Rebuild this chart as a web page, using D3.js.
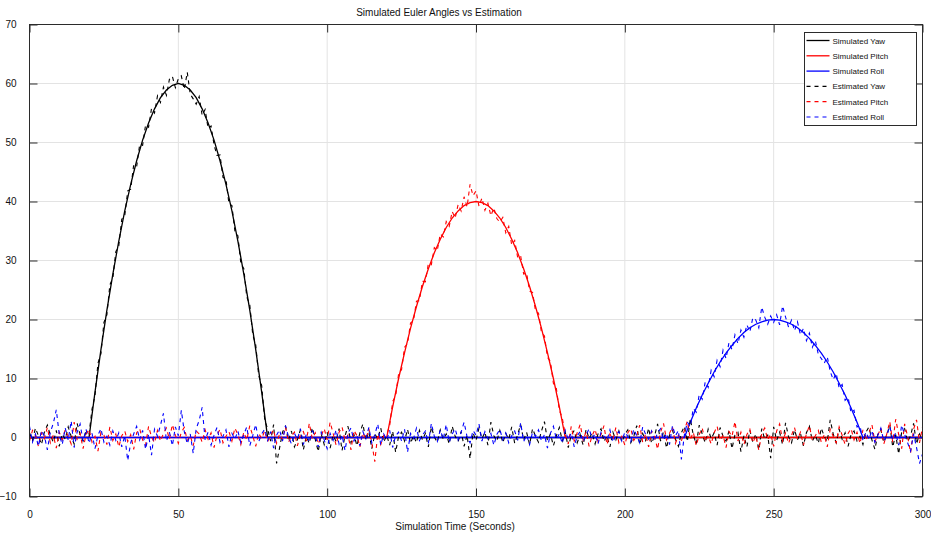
<!DOCTYPE html>
<html>
<head>
<meta charset="utf-8">
<script src="https://cdn.jsdelivr.net/npm/d3@7"></script>
<style>
	body { margin: 0; background: #fff; }
	svg { font-family: "Liberation Sans", Arial, sans-serif; }
	.grid line { stroke: #e3e3e3; stroke-width: 1; }
	.frame { fill: none; stroke: #2b2b2b; stroke-width: 1; }
	.ticklabel { font-size: 10px; fill: #111; }
</style>
</head>
<body>
<svg id="chart" width="931" height="536"></svg>
<script>

// x/y ticks
var xTicks = [0, 50, 100, 150, 200, 250, 300];
var yTicks = [-10, 0, 10, 20, 30, 40, 50, 60, 70];

// simulated angles, [time, degrees]
var simYaw = [[0,0],[20,0],[22,7.7],[24,14.9],[26,21.6],[28,27.7],[30,33.3],[32,38.4],[34,42.9],[36,46.9],[38,50.4],[40,53.3],[42,55.7],[44,57.6],[46,58.9],[48,59.7],[50,60],[52,59.7],[54,58.9],[56,57.6],[58,55.7],[60,53.3],[62,50.4],[64,46.9],[66,42.9],[68,38.4],[70,33.3],[72,27.7],[74,21.6],[76,14.9],[78,7.7],[80,0],[300,0]];
var simPitch = [[0,0],[120,0],[122,5.2],[124,10.0],[126,14.4],[128,18.5],[130,22.2],[132,25.6],[134,28.6],[136,31.3],[138,33.6],[140,35.6],[142,37.2],[144,38.4],[146,39.3],[148,39.8],[150,40],[152,39.8],[154,39.3],[156,38.4],[158,37.2],[160,35.6],[162,33.6],[164,31.3],[166,28.6],[168,25.6],[170,22.2],[172,18.5],[174,14.4],[176,10.0],[178,5.2],[180,0],[300,0]];
var simRoll = [[0,0],[220,0],[222,2.6],[224,5.0],[226,7.2],[228,9.2],[230,11.1],[232,12.8],[234,14.3],[236,15.6],[238,16.8],[240,17.8],[242,18.6],[244,19.2],[246,19.6],[248,19.9],[250,20],[252,19.9],[254,19.6],[256,19.2],[258,18.6],[260,17.8],[262,16.8],[264,15.6],[266,14.3],[268,12.8],[270,11.1],[272,9.2],[274,7.2],[276,5.0],[278,2.6],[280,0],[300,0]];

// estimated angles, one sample per second from t=0 to t=300
var estYaw = [
	0.8,-0.5,1.6,0.3,-1.2,0.9,2.1,0.4,-0.8,1.2,
	-1.5,0.6,-0.3,1.8,0.2,-1.1,2.4,0.5,-0.6,1.0,
	0.6,4.8,7.1,12.6,14.2,19.5,20.8,25.9,27.0,31.5,
	32.5,37.0,37.6,41.8,42.1,46.2,45.9,49.6,49.5,53.0,
	52.6,55.8,55.0,57.9,56.8,59.4,58.0,60.7,61.2,59.3,
	60.8,61.3,59.0,61.9,58.2,57.4,56.5,57.8,54.6,55.6,
	52.4,52.8,49.6,47.8,47.9,44.1,43.8,39.6,39.3,35.0,
	34.2,29.5,28.6,23.8,22.5,17.4,15.7,10.5,8.8,3.1,
	1.4,-0.6,2.2,-4.4,-1.8,0.9,1.9,-0.5,1.1,-1.6,
	-0.4,1.3,-2.1,0.2,-1.0,1.7,-0.3,-2.4,0.6,-1.2,
	0.9,-1.8,0.4,-0.7,1.5,-2.2,0.3,1.9,-0.9,0.5,
	-1.4,0.8,2.3,-0.5,1.0,-1.9,0.6,-0.2,1.6,-0.8,
	0.4,-1.3,1.1,-2.5,0.2,0.9,-0.6,1.4,-1.0,0.3,
	-0.9,1.2,-0.4,0.7,-1.6,1.8,0.1,-0.8,1.3,-0.3,
	0.6,-1.1,1.9,0.2,-0.7,1.0,-1.5,0.4,-3.6,0.8,
	-0.5,1.6,-0.2,0.9,-1.3,2.6,0.3,-0.6,1.2,-0.9,
	0.7,-0.3,1.8,-1.0,0.5,2.2,-0.4,0.9,-1.2,1.5,
	0.2,-0.8,1.1,2.7,-0.5,0.6,-1.4,0.3,1.7,-0.6,
	0.9,-1.7,0.4,1.2,-0.9,0.5,-1.3,1.4,-0.2,0.8,
	-1.1,0.6,1.5,-0.7,0.3,-1.6,0.9,-0.4,1.1,-0.8,
	0.5,1.3,-0.9,0.2,2.0,-1.2,0.7,-0.5,1.6,-1.0,
	0.3,2.3,-0.6,1.0,-1.8,0.4,1.2,-0.3,-1.5,0.8,
	1.9,-0.7,3.2,0.4,-1.1,2.1,0.6,-0.9,1.4,-0.2,
	0.8,-1.3,1.7,0.2,-0.6,1.1,-1.9,0.5,0.9,-2.4,
	0.3,-1.6,1.2,-0.8,0.6,-2.1,1.5,-0.3,0.4,-3.5,
	1.8,-0.5,0.9,-1.2,2.5,0.1,-0.9,1.3,-0.4,0.7,
	-1.4,0.8,1.9,-0.6,0.4,-1.0,1.6,0.2,-0.7,3.0,
	0.6,-0.9,1.4,-0.3,0.8,-1.5,0.5,1.1,-0.6,0.2,
	-1.2,0.9,1.8,-0.4,-2.0,0.6,1.3,-0.8,0.4,2.1,
	-1.6,0.5,-2.8,0.9,1.5,-0.7,0.3,2.4,-1.1,0.6,
	-0.4];
var estPitch = [
	-0.6,1.2,0.3,-1.5,0.8,-0.2,1.7,-0.9,0.4,-1.8,
	0.9,-0.4,1.3,0.2,-1.1,2.6,-0.3,0.7,-1.9,0.5,
	1.4,-0.8,0.2,-2.3,0.9,0.4,-1.2,1.8,-0.5,0.6,
	-1.6,0.3,1.1,-0.7,0.5,-2.0,0.8,1.5,-0.4,-1.3,
	1.9,0.1,-0.9,1.2,-0.6,0.7,1.6,-0.3,2.2,0.4,
	-1.0,0.9,1.7,-0.5,0.3,-1.4,1.1,0.6,-0.8,1.3,
	-0.3,0.8,-1.7,0.4,1.4,-0.9,0.2,1.0,-0.6,1.6,
	0.5,-1.2,0.9,-0.4,2.0,0.3,-1.5,0.7,-0.2,1.1,
	-0.7,0.4,1.3,-1.0,0.6,-0.3,1.8,-0.8,0.2,0.9,
	-1.4,0.5,1.0,-0.6,2.4,-0.2,0.8,-1.1,0.3,1.5,
	-0.4,2.6,0.7,-1.3,0.9,1.8,-0.5,0.4,-2.1,1.2,
	0.3,-1.6,0.8,-0.3,1.5,-0.9,-4.1,0.6,-1.2,0.4,
	0.5,2.0,6.1,7.0,10.8,11.5,15.3,15.9,19.4,19.8,
	23.1,23.2,26.5,26.4,29.5,29.3,32.2,31.7,34.5,34.0,
	36.6,35.8,38.3,37.2,39.5,38.4,40.8,39.1,42.9,41.0,
	41.8,39.2,40.6,38.5,39.7,37.6,38.9,37.1,36.5,37.3,
	34.7,35.8,32.6,33.4,30.5,30.8,27.7,27.9,24.8,24.6,
	21.4,21.1,17.8,17.2,13.6,12.9,9.2,8.3,4.6,3.3,
	0.4,-1.1,1.9,-0.6,0.8,2.2,-0.4,1.0,-1.5,0.3,
	1.4,-0.7,0.5,2.0,-1.2,0.6,-0.3,1.7,-0.9,0.2,
	-1.3,0.8,1.5,-0.5,0.3,2.1,-0.8,0.6,-1.6,1.1,
	0.2,-2.0,0.9,2.4,-0.4,0.7,1.8,-1.0,0.4,-0.6,
	1.2,2.8,-0.3,0.9,-1.4,0.5,1.6,-0.7,0.3,-1.1,
	0.8,1.9,-0.5,0.4,-1.7,1.0,0.2,2.7,-0.6,0.9,
	-1.2,0.5,1.4,-0.9,0.3,-2.1,0.7,1.6,-0.4,0.6,
	-1.5,1.1,2.3,-0.6,0.8,-1.0,0.4,1.7,-0.3,0.9,
	-1.3,0.6,2.0,-0.5,0.3,1.2,-0.8,0.5,-1.6,1.4,
	0.2,-0.9,1.8,0.4,-1.2,0.7,1.5,-0.4,0.9,-1.0,
	1.3,-0.5,0.8,2.2,-0.7,0.4,1.6,-1.1,0.6,2.7,
	-0.8,3.1,0.5,-1.9,2.3,0.2,-2.6,1.4,3.0,-0.9,
	1.8];
var estRoll = [
	1.9,-0.8,0.6,-1.5,1.2,0.3,-2.1,0.9,2.4,4.7,
	0.5,-1.2,1.6,-0.4,2.8,-1.7,0.9,2.3,-0.6,1.4,
	-1.0,0.7,-1.9,0.4,1.5,-0.8,0.2,-1.3,1.1,-0.5,
	0.8,-1.6,0.3,-3.9,-0.9,0.6,1.9,-0.4,1.2,-2.0,
	0.5,-3.0,1.4,0.2,2.1,4.1,-0.6,0.9,-1.4,1.8,
	0.3,4.6,1.0,-1.1,0.6,-2.7,1.5,2.9,5.1,-0.4,
	0.9,-1.3,0.4,1.7,-0.8,0.2,1.3,-1.6,0.7,-0.3,
	1.1,-0.9,0.5,1.8,-1.4,0.3,2.2,-0.7,0.6,1.4,
	-0.5,1.0,-1.8,0.4,1.3,-0.6,2.0,0.2,-1.1,0.7,
	-0.3,1.5,-1.2,0.6,-0.8,1.1,0.3,-1.6,0.9,-0.4,
	-1.9,0.7,-0.5,1.3,-1.1,0.4,-2.2,0.8,1.6,-0.6,
	0.3,-1.4,1.0,-0.2,1.7,-0.9,0.5,2.3,-1.3,0.6,
	-0.4,1.2,-1.7,0.3,0.9,-0.6,1.4,-2.5,0.7,-0.2,
	1.6,-0.5,0.4,1.1,-1.0,2.4,0.2,-0.7,1.3,-0.3,
	2.2,-0.8,0.6,1.5,-0.4,0.9,2.6,0.1,-0.9,1.2,
	0.4,2.3,-0.6,1.0,-0.2,0.7,-1.3,0.5,1.4,-0.4,
	0.8,-0.9,0.3,1.1,-0.5,2.5,-0.7,0.4,-1.2,0.9,
	0.2,1.3,-0.6,0.5,-1.8,0.7,1.9,-0.3,0.6,-1.0,
	1.2,-0.4,0.8,-1.6,0.3,1.0,-0.7,0.4,1.5,-0.2,
	0.6,-1.1,0.9,0.2,-0.5,1.3,-0.8,0.4,1.0,-0.6,
	0.9,0.2,-0.7,1.4,0.3,-0.9,1.8,0.5,-0.3,1.1,
	-0.6,0.8,1.5,-0.4,0.7,-1.2,2.0,0.3,1.2,-3.7,
	0.4,2.6,1.9,4.9,4.3,7.3,6.5,9.4,8.5,11.4,
	10.3,13.1,12.0,14.8,13.4,16.1,14.9,17.4,15.9,18.2,
	17.0,19.1,17.9,20.3,19.9,18.6,22.1,20.4,19.2,20.6,
	19.5,20.8,19.1,22.3,20.4,18.7,19.9,18.1,19.6,17.4,
	18.5,16.4,17.7,15.3,16.4,14.1,13.4,12.6,13.7,11.2,
	9.8,10.9,8.4,9.0,6.3,6.8,4.2,4.6,1.8,2.0,
	-0.5,0.9,-0.3,1.2,-0.8,0.4,1.6,-0.6,0.3,1.9,
	-0.4,0.8,-1.3,2.1,0.5,-0.9,-2.3,0.6,-1.7,-4.4,
	-2.8];

var seriesNames = ['Simulated Yaw', 'Simulated Pitch', 'Simulated Roll', 'Estimated Yaw', 'Estimated Pitch', 'Estimated Roll'];
var seriesColors = ['#000000', '#ff0000', '#0000ff', '#000000', '#ff0000', '#0000ff'];

function drawChart() {
	var svg = d3.select('#chart');
	var left = 29.5, right = 922.5, top = 24.5, bottom = 496.5;

	var x = d3.scaleLinear().domain([0, 300]).range([left, right]);
	var y = d3.scaleLinear().domain([-10, 70]).range([bottom, top]);

	// grid
	var grid = svg.append('g').attr('class', 'grid');
	grid.selectAll('.vx').data(xTicks.slice(1, -1)).enter().append('line')
		.attr('x1', function(d){ return x(d); }).attr('x2', function(d){ return x(d); })
		.attr('y1', top).attr('y2', bottom);
	grid.selectAll('.hy').data(yTicks.slice(1, -1)).enter().append('line')
		.attr('y1', function(d){ return y(d); }).attr('y2', function(d){ return y(d); })
		.attr('x1', left).attr('x2', right);

	// axes with inward ticks, on all four sides
	var tick = 8;
	svg.append('g').attr('transform', 'translate(0,' + bottom + ')')
		.call(d3.axisBottom(x).tickValues(xTicks).tickSize(-tick).tickPadding(tick + 6));
	svg.append('g').attr('transform', 'translate(0,' + top + ')')
		.call(d3.axisTop(x).tickValues(xTicks).tickSize(-tick).tickFormat(''));
	svg.append('g').attr('transform', 'translate(' + left + ',0)')
		.call(d3.axisLeft(y).tickValues(yTicks).tickSize(-tick).tickPadding(tick + 5));
	svg.append('g').attr('transform', 'translate(' + right + ',0)')
		.call(d3.axisRight(y).tickValues(yTicks).tickSize(-tick).tickFormat(''));
	svg.selectAll('.domain').remove();
	svg.selectAll('.tick line').attr('stroke', '#2b2b2b');
	svg.selectAll('.tick text').attr('class', 'ticklabel')
		.attr('font-family', null).attr('font-size', null);

	svg.append('defs').append('clipPath').attr('id', 'plotclip')
		.append('rect').attr('x', left).attr('y', top)
		.attr('width', right - left).attr('height', bottom - top);

	var line = d3.line()
		.x(function(d){ return x(d[0]); })
		.y(function(d){ return y(d[1]); });

	var estLine = d3.line()
		.x(function(d, i){ return x(i); })
		.y(function(d){ return y(d); });

	var plot = svg.append('g').attr('clip-path', 'url(#plotclip)');
	[simYaw, simPitch, simRoll].forEach(function(s, i) {
		plot.append('path').datum(s)
			.attr('d', line)
			.attr('fill', 'none')
			.attr('stroke', seriesColors[i])
			.attr('stroke-width', 1.3);
	});
	[estYaw, estPitch, estRoll].forEach(function(s, i) {
		plot.append('path').datum(s)
			.attr('d', estLine)
			.attr('fill', 'none')
			.attr('stroke', seriesColors[i + 3])
			.attr('stroke-width', 1.1)
			.attr('stroke-dasharray', '4,4');
	});

	svg.append('rect').attr('class', 'frame')
		.attr('x', left).attr('y', top)
		.attr('width', right - left).attr('height', bottom - top);

	// titles
	svg.append('text').text('Simulated Euler Angles vs Estimation')
		.attr('x', 439).attr('y', 16)
		.attr('text-anchor', 'middle').attr('font-size', '10px').attr('fill', '#111');
	svg.append('text').text('Simulation Time (Seconds)')
		.attr('x', 455).attr('y', 529.5)
		.attr('text-anchor', 'middle').attr('font-size', '10px').attr('fill', '#111');

	drawLegend(svg);
}

function drawLegend(svg) {
	var lx = 804.5, ly = 32.5, lw = 112, lh = 93;
	var lineHeight = 15.3;
	var box = svg.append('g');
	box.append('rect')
		.attr('x', lx).attr('y', ly).attr('width', lw).attr('height', lh)
		.attr('fill', '#fff').attr('stroke', '#2b2b2b').attr('stroke-width', 1);

	var rows = box.selectAll('g.row').data(seriesNames).enter().append('g')
		.attr('transform', function(d, i) { return 'translate(0,' + (ly + 8 + i * lineHeight) + ')'; });
	rows.append('line')
		.attr('x1', lx + 2).attr('x2', lx + 25)
		.attr('y1', 0).attr('y2', 0)
		.attr('stroke', function(d, i){ return seriesColors[i]; })
		.attr('stroke-width', function(d, i){ return i < 3 ? 1.3 : 1.2; })
		.attr('stroke-dasharray', function(d, i){ return i < 3 ? null : '4,4'; });
	rows.append('text')
		.text(function(d){ return d; })
		.attr('x', lx + 28).attr('y', 3)
		.attr('font-size', '8px').attr('fill', '#111');
}

drawChart();
</script>
</body>
</html>
